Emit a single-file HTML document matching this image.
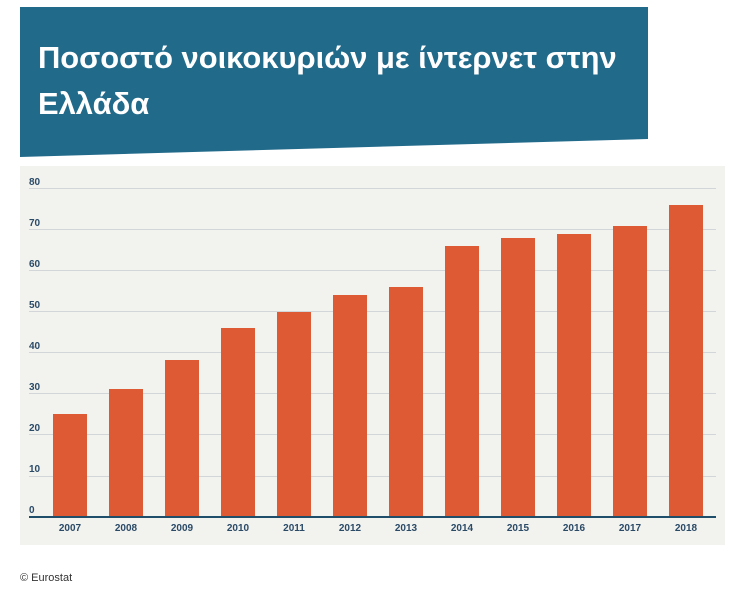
<!DOCTYPE html>
<html><head><meta charset="utf-8"><style>
body{margin:0;width:741px;height:591px;background:#fff;overflow:hidden;font-family:"Liberation Sans",sans-serif;position:relative}
.ban{position:absolute;left:20px;top:7px;width:628px;height:150px;background:#216a8a;clip-path:polygon(0 0,100% 0,100% 132px,0 150px)}
.ban div{position:absolute;left:18px;top:28px;color:#fff;font-weight:bold;font-size:30.9px;line-height:46px;white-space:nowrap}
.foot{position:absolute;left:20px;top:572px;font-size:11px;color:#333}
</style></head><body>
<div class="ban"><div>Ποσοστό νοικοκυριών με ίντερνετ στην<br>Ελλάδα</div></div>
<svg style="position:absolute;left:0;top:0" width="741" height="591">
<rect x="20" y="166" width="705" height="379" fill="#f2f2ef"/>
<g font-family="Liberation Sans Narrow,Liberation Sans,sans-serif" font-size="10" font-weight="bold" fill="#2a4a66">
<g stroke="#d3d6d9" stroke-width="1">
<line x1="29" x2="716" y1="188.5" y2="188.5"/><line x1="29" x2="716" y1="229.5" y2="229.5"/><line x1="29" x2="716" y1="270.5" y2="270.5"/><line x1="29" x2="716" y1="311.5" y2="311.5"/><line x1="29" x2="716" y1="352.5" y2="352.5"/><line x1="29" x2="716" y1="393.5" y2="393.5"/><line x1="29" x2="716" y1="434.5" y2="434.5"/><line x1="29" x2="716" y1="476.5" y2="476.5"/>
</g>
<text x="29" y="185">80</text><text x="29" y="226">70</text><text x="29" y="267">60</text><text x="29" y="308">50</text><text x="29" y="349">40</text><text x="29" y="390">30</text><text x="29" y="431">20</text><text x="29" y="472">10</text><text x="29" y="513">0</text>
<g fill="#dd5a34">
<rect x="53" y="414" width="34" height="103"/>
<rect x="109" y="389" width="34" height="128"/>
<rect x="165" y="360" width="34" height="157"/>
<rect x="221" y="328" width="34" height="189"/>
<rect x="277" y="312" width="34" height="205"/>
<rect x="333" y="295" width="34" height="222"/>
<rect x="389" y="287" width="34" height="230"/>
<rect x="445" y="246" width="34" height="271"/>
<rect x="501" y="238" width="34" height="279"/>
<rect x="557" y="234" width="34" height="283"/>
<rect x="613" y="226" width="34" height="291"/>
<rect x="669" y="205" width="34" height="312"/>
</g>
<line x1="29" x2="716" y1="517" y2="517" stroke="#1f4e6b" stroke-width="2"/>
<g text-anchor="middle">
<text x="70" y="531">2007</text><text x="126" y="531">2008</text><text x="182" y="531">2009</text><text x="238" y="531">2010</text><text x="294" y="531">2011</text><text x="350" y="531">2012</text><text x="406" y="531">2013</text><text x="462" y="531">2014</text><text x="518" y="531">2015</text><text x="574" y="531">2016</text><text x="630" y="531">2017</text><text x="686" y="531">2018</text>
</g></g>
</svg>
<div class="foot">© Eurostat</div>
</body></html>
